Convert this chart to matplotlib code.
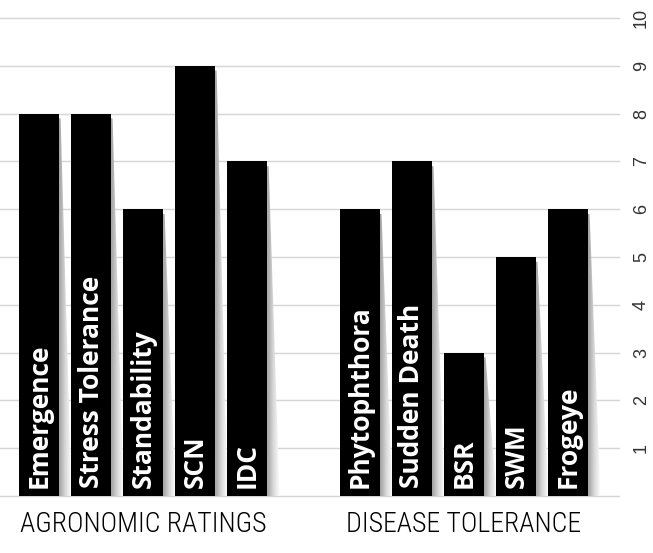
import numpy as np
import matplotlib.pyplot as plt
from matplotlib.patches import Polygon
from matplotlib.colors import LinearSegmentedColormap

agro_labels = ["Emergence", "Stress Tolerance", "Standability", "SCN", "IDC"]
agro_values = [8, 8, 6, 9, 7]
disease_labels = ["Phytophthora", "Sudden Death", "BSR", "SWM", "Frogeye"]
disease_values = [6, 7, 3, 5, 6]
group_names = ["AGRONOMIC RATINGS", "DISEASE TOLERANCE"]
yticks = list(range(1, 11))

BAR_FONT = ["Open Sans", "DejaVu Sans"]
GROUP_FONT = ["Roboto Condensed", "DejaVu Sans"]
TICK_FONT = ["Liberation Sans", "DejaVu Sans"]

GAP = 1.17   # extra space between the two groups
WIDTH = 0.77

x_agro = np.arange(len(agro_labels))
x_dis = np.arange(len(disease_labels)) + len(agro_labels) + GAP
xs = np.concatenate([x_agro, x_dis])
vals = agro_values + disease_values
labels = agro_labels + disease_labels

fig = plt.figure(figsize=(6.53, 5.53), dpi=100)
ax = fig.add_axes([0, 1 - 496 / 553, 619 / 653, 478 / 553])

ax.set_xlim(-0.75, 11.15)
ax.set_ylim(0, 10)
for y in range(0, 11):
    ax.axhline(y, color="#d6d6d6", lw=1, zorder=0, clip_on=False)

# soft shadow on the right side of each bar
shade = LinearSegmentedColormap.from_list("shade", ["#a0a0a0", "#dadada", "#ffffff"])
grad = np.linspace(0, 1, 64).reshape(1, -1)
for x, v in zip(xs, vals):
    r = x + WIDTH / 2
    tri = Polygon([(r, v - 0.1), (r + 0.03, v - 0.1), (r + 0.24, 0), (r, 0)],
                  closed=True, facecolor="none", edgecolor="none")
    ax.add_patch(tri)
    im = ax.imshow(grad, cmap=shade, aspect="auto", extent=[r, r + 0.24, 0, v],
                   zorder=1, interpolation="bilinear")
    im.set_clip_path(tri)

ax.bar(xs, vals, width=WIDTH, color="black", zorder=2)

for x, lab in zip(xs, labels):
    ax.text(x, 0.17, lab, rotation=90, ha="center", va="bottom", color="white",
            fontsize=19, fontweight="bold", fontstretch="condensed",
            family=BAR_FONT, zorder=3)

for xg, name in zip([np.mean(x_agro), np.mean(x_dis)], group_names):
    ax.text(xg, -0.6, name, ha="center", va="center", fontsize=20,
            fontweight="light", family=GROUP_FONT, color="black")

ax.yaxis.tick_right()
ax.set_yticks(yticks)
ax.set_yticklabels([str(t) for t in yticks], rotation=90, va="center",
                   fontsize=13, color="#333333", family=TICK_FONT)
ax.tick_params(axis="y", length=0, pad=10)
ax.set_xticks([])
for s in ax.spines.values():
    s.set_visible(False)

fig.savefig("out.png", dpi=100)
